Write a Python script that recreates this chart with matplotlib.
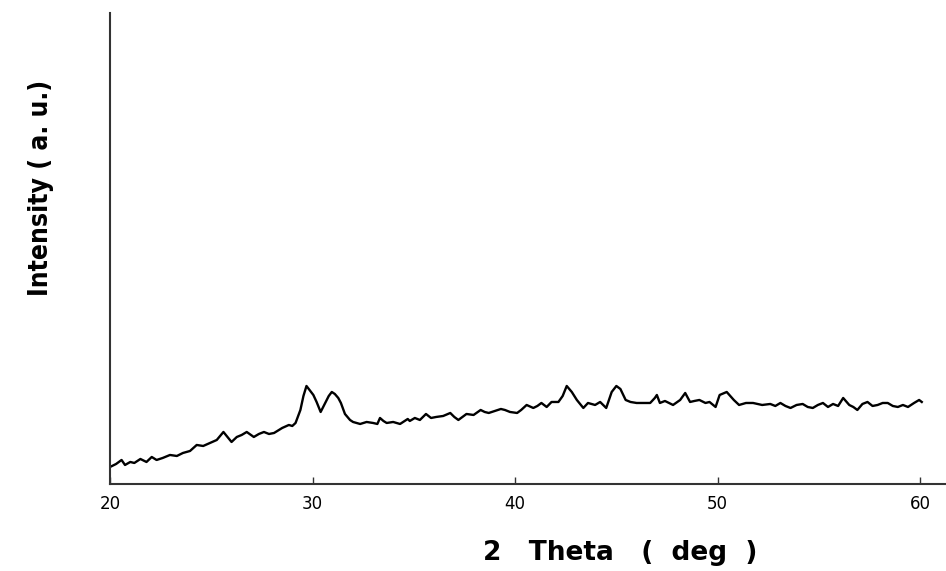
import matplotlib.pyplot as plt
import numpy as np

# XRD pattern (2 theta in deg, intensity in a.u.)
two_theta = [20.0, 20.3, 20.57, 20.74, 21.0, 21.2, 21.5, 21.8, 22.06, 22.3, 22.6,
             22.96, 23.3, 23.6, 23.95, 24.28, 24.6, 24.94, 25.27, 25.6, 25.8,
             26.0, 26.26, 26.5, 26.75, 27.1, 27.35, 27.6, 27.85, 28.1, 28.5,
             28.83, 29.0, 29.16, 29.4, 29.55, 29.7, 29.85, 30.04, 30.2, 30.4,
             30.6, 30.8, 30.95, 31.1, 31.27, 31.4, 31.6, 31.85, 32.0, 32.35,
             32.67, 32.99, 33.2, 33.33, 33.5, 33.66, 33.98, 34.32, 34.7, 34.8,
             35.05, 35.3, 35.6, 35.85, 36.1, 36.45, 36.8, 37.0, 37.2, 37.6,
             37.95, 38.3, 38.5, 38.7, 39.0, 39.3, 39.5, 39.75, 40.1, 40.3,
             40.57, 40.9, 41.1, 41.3, 41.56, 41.8, 42.14, 42.35, 42.55, 42.8,
             43.05, 43.37, 43.6, 43.95, 44.2, 44.5, 44.77, 45.0, 45.2, 45.46,
             45.7, 46.0, 46.3, 46.67, 46.9, 47.0, 47.15, 47.4, 47.8, 48.15,
             48.4, 48.64, 48.85, 49.1, 49.4, 49.6, 49.9, 50.1, 50.45, 50.8,
             51.06, 51.4, 51.75, 52.2, 52.6, 52.85, 53.1, 53.35, 53.6, 53.9,
             54.2, 54.45, 54.7, 54.95, 55.2, 55.45, 55.7, 55.95, 56.2, 56.5,
             56.7, 56.9, 57.15, 57.4, 57.65, 57.9, 58.15, 58.4, 58.65, 58.9,
             59.15, 59.4, 59.7, 59.95, 60.08]
intensity = [17, 20, 24, 19, 22, 21, 25, 22, 27, 24, 26,
             29, 28, 31, 33, 39, 38, 41, 44, 52, 47,
             42, 47, 49, 52, 47, 50, 52, 50, 51, 56,
             59, 58, 61, 74, 88, 98, 94, 89, 82, 72,
             80, 88, 92, 90, 86, 81, 70, 64, 62, 60,
             62, 61, 60, 66, 63, 61, 62, 60, 65, 63,
             66, 64, 70, 66, 67, 68, 71, 67, 64, 70,
             69, 74, 72, 71, 73, 75, 74, 72, 71, 74,
             79, 76, 78, 81, 77, 82, 82, 88, 98, 92,
             84, 76, 81, 79, 82, 76, 92, 98, 95, 84,
             82, 81, 81, 81, 86, 89, 81, 83, 79, 84,
             91, 82, 83, 84, 81, 82, 77, 89, 92, 84,
             79, 81, 81, 79, 80, 78, 81, 78, 76, 79,
             80, 77, 76, 79, 81, 77, 80, 78, 86, 79,
             77, 74, 80, 82, 78, 79, 81, 81, 78, 77,
             79, 77, 81, 84, 82]

fig = plt.figure(figsize=(9.46, 5.71), dpi=100)
ax = fig.add_axes([0.1163, 0.1524, 0.8827, 0.8249])

ax.plot(two_theta, intensity, color='black', linewidth=1.7)

ax.set_xlim(20, 61.23)
ax.set_ylim(0, 471)
ax.set_xticks([20, 30, 40, 50, 60])
ax.set_yticks([])
ax.tick_params(axis='x', direction='in', length=5, width=1, color='#333333',
               labelsize=12, pad=8)

for side in ['top', 'right']:
    ax.spines[side].set_visible(False)
for side in ['left', 'bottom']:
    ax.spines[side].set_color('#333333')
    ax.spines[side].set_linewidth(1.5)

fig.text(0.656, 0.032, '2   Theta   (  deg  )', ha='center', va='center',
         fontsize=19, fontweight='heavy', family='DejaVu Sans')
fig.text(0.043, 0.671, 'Intensity ( a. u.)', ha='center', va='center',
         rotation=90, fontsize=19, fontweight='bold',
         family='DejaVu Sans', fontstretch='condensed')

fig.savefig('out.png', dpi=100)
